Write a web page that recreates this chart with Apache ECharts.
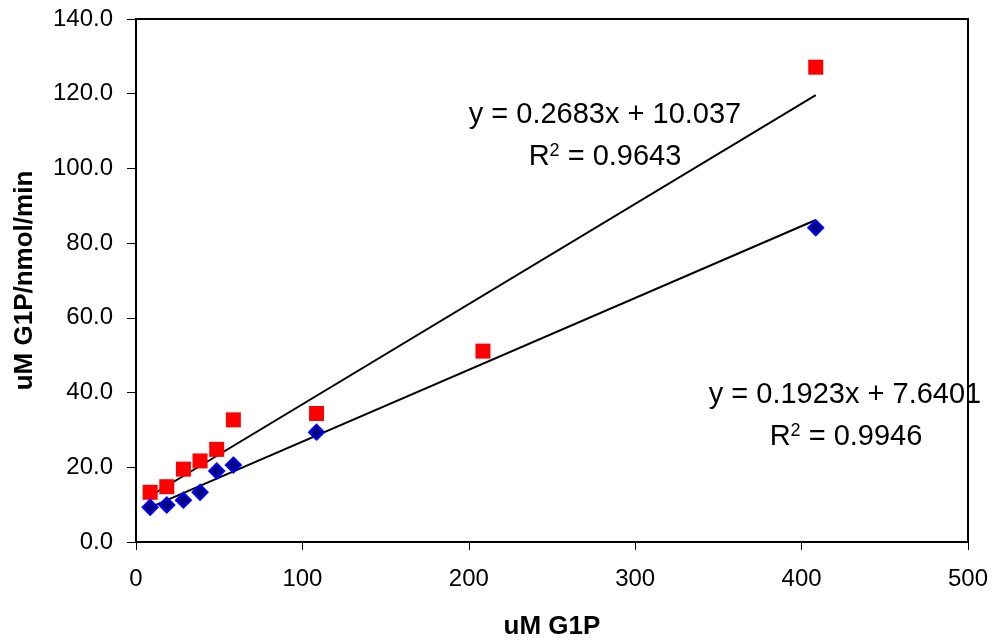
<!DOCTYPE html>
<html>
<head>
<meta charset="utf-8">
<script src="https://cdn.jsdelivr.net/npm/echarts@6/dist/echarts.min.js"></script>
<style>
  html, body { margin: 0; padding: 0; background: #fff; }
  #chart { width: 994px; height: 641px; }
</style>
</head>
<body>
<div id="chart"></div>
<script>
// values
const xValues = [8.5, 18.5, 28.5, 38.5, 48.5, 58.5, 108.5, 208.5, 408.5]
const redValues = [13.3, 14.8, 19.5, 21.7, 24.8, 32.7, 34.4, 51.1, 127.1]
const blueXValues = [8.5, 18.5, 28.5, 38.5, 48.5, 58.5, 108.5, 408.5]
const blueValues = [9.3, 9.9, 11.2, 13.3, 19.0, 20.6, 29.4, 84.1]

// trendline coefficients as printed on the chart
const redFit = { slope: 0.2683, intercept: 10.037, r2: '0.9643' }
const blueFit = { slope: 0.1923, intercept: 7.6401, r2: '0.9946' }

const fontFamily = 'Liberation Sans, Arial, sans-serif'

function pairs(xs, ys) {
  return xs.map((x, i) => [x, ys[i]])
}

// endpoints of a trendline across the data range
function fitLine(fit, xs) {
  const x0 = Math.min(...xs)
  const x1 = Math.max(...xs)
  return [[x0, fit.slope * x0 + fit.intercept], [x1, fit.slope * x1 + fit.intercept]]
}

const chart = echarts.init(document.getElementById('chart'), null, { renderer: 'canvas' })

const eqStyle = {
  fontFamily,
  fontSize: 29,
  fill: '#000',
  align: 'center',
  verticalAlign: 'middle',
}

const supRich = { sup: { fontFamily, fontSize: 18, verticalAlign: 'top', padding: [0, 0, 4, 0] } }

function eqText(fit) {
  return `y = ${fit.slope}x + ${fit.intercept}`
}

chart.setOption({
  animation: false,
  backgroundColor: '#fff',
  grid: {
    left: 136, top: 19, right: 26, bottom: 99,
    outerBoundsMode: 'none',
    containLabel: false,
    show: true, borderColor: '#000', borderWidth: 2,
  },
  xAxis: {
    type: 'value',
    min: 0, max: 500, interval: 100,
    name: 'uM G1P',
    nameLocation: 'middle',
    nameGap: 72,
    nameTextStyle: { fontFamily, fontSize: 26, fontWeight: 'bold', color: '#000' },
    axisLine: { show: true, onZero: false, lineStyle: { color: '#000', width: 2 } },
    axisTick: { show: true, length: 8, lineStyle: { color: '#000', width: 1 } },
    axisLabel: { fontFamily, fontSize: 24, color: '#000', margin: 25 },
    splitLine: { show: false },
  },
  yAxis: {
    type: 'value',
    min: 0, max: 140, interval: 20,
    name: 'uM G1P/nmol/min',
    nameLocation: 'middle',
    nameGap: 98,
    nameTextStyle: { fontFamily, fontSize: 26, fontWeight: 'bold', color: '#000' },
    axisLine: { show: true, lineStyle: { color: '#000', width: 2 } },
    axisTick: { show: true, length: 9, lineStyle: { color: '#000', width: 1 } },
    axisLabel: {
      fontFamily, fontSize: 24, color: '#000', margin: 23,
      formatter: (v) => v.toFixed(1),
    },
    splitLine: { show: false },
  },
  series: [
    {
      type: 'line',
      data: fitLine(redFit, xValues),
      symbol: 'none',
      lineStyle: { color: '#000', width: 2 },
      z: 2,
    },
    {
      type: 'line',
      data: fitLine(blueFit, blueXValues),
      symbol: 'none',
      lineStyle: { color: '#000', width: 2 },
      z: 2,
    },
    {
      type: 'scatter',
      data: pairs(xValues, redValues),
      symbol: 'rect',
      symbolSize: 15,
      itemStyle: { color: '#ff0000', opacity: 1 },
      z: 3,
    },
    {
      type: 'scatter',
      data: pairs(blueXValues, blueValues),
      symbol: 'diamond',
      symbolSize: [15, 15],
      itemStyle: { color: '#000080', borderColor: '#0000ff', borderWidth: 2, opacity: 1 },
      z: 3,
    },
  ],
  graphic: [
    {
      type: 'text', x: 605, y: 115,
      style: { ...eqStyle, text: eqText(redFit) },
    },
    {
      type: 'text', x: 605, y: 157,
      style: { ...eqStyle, text: `R{sup|2} = ${redFit.r2}`, rich: supRich },
    },
    {
      type: 'text', x: 845, y: 395,
      style: { ...eqStyle, text: eqText(blueFit) },
    },
    {
      type: 'text', x: 846, y: 437,
      style: { ...eqStyle, text: `R{sup|2} = ${blueFit.r2}`, rich: supRich },
    },
  ],
})
</script>
</body>
</html>
